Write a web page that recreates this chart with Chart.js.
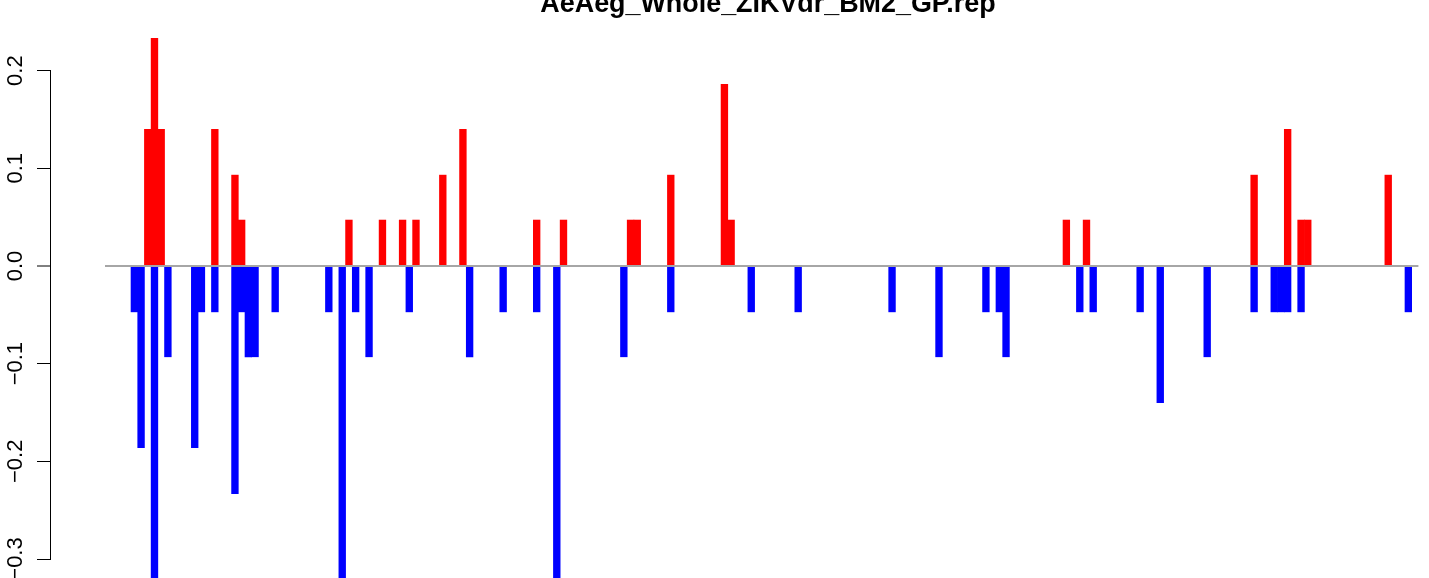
<!DOCTYPE html>
<html lang="en">
<head>
    <meta charset="UTF-8">
    <title>AeAeg_Whole_ZIKVdr_BM2_GP.rep</title>
    <script src="https://cdn.jsdelivr.net/npm/chart.js"></script>
    <style>
        body {
            margin: 0;
            padding: 0;
            background: #ffffff;
        }

        .chart-box {
            position: relative;
            width: 1429px;
            height: 578px;
            overflow: hidden;
        }

        /* title sits over the plot centre and is cut by the top edge, as in the original */
        .chart-title {
            position: absolute;
            top: -10.3px;
            left: 0;
            width: 1536px;
            margin: 0;
            text-align: center;
            font-family: "Liberation Sans", Arial, Helvetica, sans-serif;
            font-size: 26.9px;
            line-height: 27px;
            font-weight: bold;
            color: #000000;
            white-space: nowrap;
        }
    </style>
</head>
<body>
    <div class="chart-box">
        <canvas id="repChart"></canvas>
        <h1 class="chart-title">AeAeg_Whole_ZIKVdr_BM2_GP.rep</h1>
    </div>

    <script>
        // 196 bar positions, 14 per row
        const positions = Array.from({ length: 196 }, (_, i) => String(i + 1));

        // red bars (above zero)
        const upValues = [
            0, 0, 0, 0, 0, 0, 0.14, 0.233, 0.14, 0, 0, 0, 0, 0,
            0, 0, 0.14, 0, 0, 0.093, 0.047, 0, 0, 0, 0, 0, 0, 0,
            0, 0, 0, 0, 0, 0, 0, 0, 0.047, 0, 0, 0, 0, 0.047,
            0, 0, 0.047, 0, 0.047, 0, 0, 0, 0.093, 0, 0, 0.14, 0, 0,
            0, 0, 0, 0, 0, 0, 0, 0, 0.047, 0, 0, 0, 0.047, 0,
            0, 0, 0, 0, 0, 0, 0, 0, 0.047, 0.047, 0, 0, 0, 0,
            0.093, 0, 0, 0, 0, 0, 0, 0, 0.186, 0.047, 0, 0, 0, 0,
            0, 0, 0, 0, 0, 0, 0, 0, 0, 0, 0, 0, 0, 0,
            0, 0, 0, 0, 0, 0, 0, 0, 0, 0, 0, 0, 0, 0,
            0, 0, 0, 0, 0, 0, 0, 0, 0, 0, 0, 0, 0, 0,
            0, 0, 0, 0.047, 0, 0, 0.047, 0, 0, 0, 0, 0, 0, 0,
            0, 0, 0, 0, 0, 0, 0, 0, 0, 0, 0, 0, 0, 0,
            0, 0, 0, 0.093, 0, 0, 0, 0, 0.14, 0, 0.047, 0.047, 0, 0,
            0, 0, 0, 0, 0, 0, 0, 0, 0, 0.093, 0, 0, 0, 0
        ];

        // blue bars (below zero)
        const downValues = [
            0, 0, 0, 0, -0.047, -0.186, 0, -0.326, 0, -0.093, 0, 0, 0, -0.186,
            -0.047, 0, -0.047, 0, 0, -0.233, -0.047, -0.093, -0.093, 0, 0, -0.047, 0, 0,
            0, 0, 0, 0, 0, -0.047, 0, -0.326, 0, -0.047, 0, -0.093, 0, 0,
            0, 0, 0, -0.047, 0, 0, 0, 0, 0, 0, 0, 0, -0.093, 0,
            0, 0, 0, -0.047, 0, 0, 0, 0, -0.047, 0, 0, -0.326, 0, 0,
            0, 0, 0, 0, 0, 0, 0, -0.093, 0, 0, 0, 0, 0, 0,
            -0.047, 0, 0, 0, 0, 0, 0, 0, 0, 0, 0, 0, -0.047, 0,
            0, 0, 0, 0, 0, -0.047, 0, 0, 0, 0, 0, 0, 0, 0,
            0, 0, 0, 0, 0, -0.047, 0, 0, 0, 0, 0, 0, -0.093, 0,
            0, 0, 0, 0, 0, -0.047, 0, -0.047, -0.093, 0, 0, 0, 0, 0,
            0, 0, 0, 0, 0, -0.047, 0, -0.047, 0, 0, 0, 0, 0, 0,
            -0.047, 0, 0, -0.14, 0, 0, 0, 0, 0, 0, -0.093, 0, 0, 0,
            0, 0, 0, -0.047, 0, 0, -0.047, -0.047, -0.047, 0, -0.047, 0, 0, 0,
            0, 0, 0, 0, 0, 0, 0, 0, 0, 0, 0, 0, -0.047, 0
        ];

        const yTicks = [0.2, 0.1, 0.0, -0.1, -0.2, -0.3];

        const fontFamily = '"Liberation Sans", Arial, Helvetica, sans-serif';

        // empty positions get no bar at all
        const noZero = (arr) => arr.map(v => (v === 0 ? null : v));

        const data = {
            labels: positions,
            datasets: [
                { label: 'up', data: noZero(upValues), backgroundColor: '#ff0000', clip: false, xAxisID: 'x', yAxisID: 'y' },
                { label: 'down', data: noZero(downValues), backgroundColor: '#0000ff', clip: false, xAxisID: 'x', yAxisID: 'y' }
            ]
        };

        const isZero = (ctx) => ctx.tick && Math.abs(ctx.tick.value) < 1e-9;

        const options = {
            responsive: true,
            maintainAspectRatio: false,
            animation: false,
            layout: {
                padding: { left: 0, right: 10.6, top: 70.6, bottom: 19 }
            },
            datasets: {
                bar: {
                    barPercentage: 1,
                    categoryPercentage: 1,
                    borderWidth: 0
                }
            },
            plugins: {
                legend: { display: false },
                tooltip: { enabled: false },
                title: { display: false }
            },
            scales: {
                x: {
                    type: 'category',
                    stacked: true,
                    display: false
                },
                y: {
                    type: 'linear',
                    position: 'left',
                    weight: 1,
                    stacked: true,
                    min: -0.3,
                    max: 0.2,
                    afterFit: (scale) => { scale.width = 50; },
                    afterBuildTicks: (scale) => {
                        scale.ticks = yTicks.map(v => ({ value: v }));
                    },
                    ticks: {
                        minRotation: 90,
                        maxRotation: 90,
                        crossAlign: 'center',
                        padding: -1,
                        color: '#000000',
                        font: { family: fontFamily, size: 22 },
                        callback: (v) => v.toFixed(1).replace('-', '\u2212')
                    },
                    grid: {
                        z: 1,
                        color: (ctx) => isZero(ctx) ? '#a6a6a6' : 'rgba(0,0,0,0)',
                        lineWidth: (ctx) => isZero(ctx) ? 2 : 1,
                        tickColor: '#000000',
                        tickWidth: 1,
                        tickLength: 13
                    },
                    border: { display: true, color: '#000000', width: 1, z: 2 }
                },
                // empty gap between the axis and the bars
                gap: {
                    type: 'linear',
                    position: 'left',
                    weight: 0,
                    display: true,
                    grid: { display: false },
                    border: { display: false },
                    ticks: { display: false },
                    afterFit: (scale) => { scale.width = 54.2; }
                }
            }
        };

        const ctx = document.getElementById('repChart').getContext('2d');
        new Chart(ctx, {
            type: 'bar',
            data: data,
            options: options
        });
    </script>
</body>
</html>
